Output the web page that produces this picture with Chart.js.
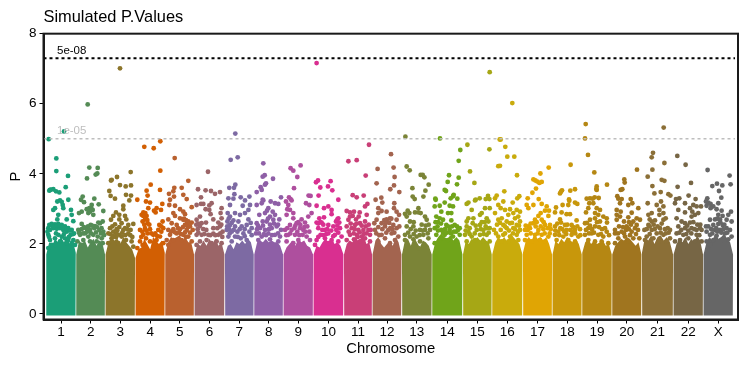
<!DOCTYPE html>
<html>
<head>
<meta charset="utf-8">
<script src="https://cdn.jsdelivr.net/npm/chart.js@4"></script>
<style>
  body { margin: 0; background: #fff; }
  canvas { display: block; }
</style>
</head>
<body>
<canvas id="manhattan" width="750" height="367"></canvas>
<script>
const chromosomes = ["1","2","3","4","5","6","7","8","9","10","11","12","13","14","15","16","17","18","19","20","21","22","X"];
const chromLengths = [30,29.3,30,29.7,29.3,30.4,29.3,29.3,30,30.4,28.6,29.4,30.3,30.7,29.3,30.7,29.6,29.7,30,29.7,31.6,30,30];
const chromColors = ["#1b9e77","#548b55","#8c752b","#d25f03","#b9612f","#9b6568","#7d6aa3","#8e5fa6","#ae4f9e","#d92f90","#c93f77","#a3644f","#7b8437","#70a41a","#a6a715","#c9ab0c","#e0a504","#c8970b","#b58713","#a0751f","#8b6f37","#776645","#666666"];

// top edge of the solid part of each chromosome, 11 readings left to right
const bandTops = [
  [1.7,2.05,1.95,2.15,2.05,2.2,2.05,2.2,2.0,2.1,1.75],
  [1.7,2.1,2.0,2.1,1.9,2.05,2.15,1.95,2.1,2.05,1.7],
  [1.7,2.05,2.2,2.1,2.15,2.0,2.2,2.05,1.95,1.85,1.6],
  [1.6,1.85,1.9,2.15,2.0,1.85,2.2,2.1,2.0,2.1,1.75],
  [1.7,2.05,2.2,2.15,2.2,2.25,2.1,2.2,2.05,2.05,1.7],
  [1.7,2.0,1.95,2.1,1.95,2.15,2.0,2.15,1.95,2.05,1.7],
  [1.7,1.95,2.0,1.85,2.05,2.0,2.1,2.0,2.15,2.05,1.7],
  [1.7,2.05,2.1,2.05,2.15,2.05,2.1,2.05,2.05,1.95,1.7],
  [1.7,1.9,2.0,2.1,1.95,2.15,2.05,2.1,1.95,1.9,1.7],
  [1.7,1.95,1.9,2.05,2.15,2.05,2.2,2.0,2.05,1.95,1.7],
  [1.7,2.0,2.1,2.05,2.2,2.1,2.15,2.25,2.0,2.05,1.7],
  [1.7,2.1,2.2,2.0,1.9,2.0,2.05,1.95,2.2,2.05,1.7],
  [1.7,2.1,2.15,1.95,2.2,2.05,1.9,2.1,2.05,1.95,1.7],
  [1.7,2.05,2.2,2.3,2.2,2.15,2.25,2.1,2.2,2.1,1.7],
  [1.7,2.1,2.0,2.15,2.1,2.2,2.1,2.2,2.1,2.05,1.7],
  [1.7,2.05,2.2,2.1,2.2,2.05,2.3,2.2,2.1,2.0,1.7],
  [1.75,2.1,2.2,2.1,2.3,2.15,2.2,2.1,2.2,2.0,1.7],
  [1.7,2.1,2.0,2.15,2.05,2.2,2.1,2.05,2.15,2.0,1.7],
  [1.75,2.05,2.15,2.0,2.1,2.0,2.05,2.1,1.95,2.0,1.7],
  [1.7,1.95,2.05,2.15,2.1,2.2,2.15,2.05,1.95,2.05,1.7],
  [1.75,2.2,2.1,2.25,2.0,2.2,2.25,2.1,2.2,2.05,1.7],
  [1.7,2.0,2.15,2.05,2.2,2.0,2.15,2.05,2.25,2.1,1.7],
  [1.7,2.05,2.2,2.1,2.3,2.15,2.2,2.3,2.15,2.05,1.7]
];

// [position inside chromosome, -log10(p)]
const chr1 = [[2.7,4.99],[18,5.21],[10.3,4.44],[10.3,4.08],[22,3.94],[19.7,3.62],[4,3.54],[7.3,3.56],[5,3.55],[3.3,3.52],[10,3.5],[13.3,3.47],[22.3,3.26],[14,3.24],[11.3,3.21],[15.7,3.2],[16.7,3.11],[9,3.02],[7.3,2.97],[17.3,3.02],[25,2.97],[12.3,2.83],[25.7,2.83],[20.7,2.7],[27.3,2.65],[11.3,2.7],[3.3,2.54],[5.7,2.57],[9,2.56],[12.3,2.57],[15.7,2.54],[19,2.5],[22.3,2.45],[25.7,2.4],[2.3,2.45],[4,2.4],[7.3,2.45],[10.7,2.43],[14,2.45],[17.3,2.4],[20.7,2.35],[24.7,2.26],[28,2.3],[2.3,2.26],[4,2.11],[5.7,1.97],[9,2.16],[12.3,2.26],[15.7,2.21],[19,2.16],[22.3,2.11],[27.3,2.11],[25.7,2.02],[29,1.97],[20.7,2.02],[14,2.07],[9,1.97],[2.3,1.88],[6,2.52],[8,2.5],[11,2.52],[14,2.52],[17,2.48],[21,2.42],[24,2.38],[27,2.28],[1.5,2.35],[3,2.2],[10,2.3],[18,2.28],[23,2.2]];
const chr2 = [[11.7,5.98],[13.3,4.18],[21.7,4.17],[21.3,4.01],[19.7,3.98],[11,3.87],[6.7,3.35],[5,3.26],[8,3.19],[18.3,3.29],[22.7,3.13],[15.7,3.11],[13.3,3.02],[10.7,2.99],[16.7,2.97],[5.7,2.92],[3,2.88],[27.3,2.94],[12.3,2.88],[17.3,2.83],[26.7,2.64],[22.3,2.61],[5.7,2.57],[14.7,2.54],[19,2.51],[24,2.59],[2.3,2.4],[5.7,2.42],[10,2.45],[14,2.4],[18.3,2.45],[23.3,2.4],[27.3,2.35],[4,2.26],[9,2.3],[12.3,2.21],[17.3,2.26],[21.7,2.21],[25.7,2.16],[1.3,2.07],[7.3,2.11],[14,2.07],[20.7,2.07],[26.7,2.02],[5.7,1.97],[17.3,1.97],[8,2.48],[12,2.5],[16,2.52],[21,2.48],[25.5,2.45],[3,2.32],[7,2.3],[11,2.35],[15,2.3],[20,2.33],[25,2.3],[28,2.25],[14,2.92],[15.5,3.0]];
const chr3 = [[14.7,7.01],[25.4,4.05],[11.7,3.91],[6.4,3.83],[14.7,3.68],[20.4,3.64],[25.7,3.67],[5.7,3.81],[4,3.51],[5.3,3.37],[9.7,3.29],[20.7,3.4],[25.7,3.38],[24,3.24],[18,3.09],[18,2.99],[10.7,2.9],[14,2.83],[8,2.8],[19.7,2.8],[21,2.7],[14,2.7],[5.7,2.69],[9.7,2.56],[16.3,2.59],[23,2.54],[28,2.57],[4.7,2.45],[11.3,2.42],[19.7,2.45],[25.3,2.4],[3,2.3],[8,2.35],[14,2.26],[23,2.3],[6.3,2.16],[10.7,2.19],[16.3,2.21],[20.7,2.11],[26.3,2.07],[3,2.02],[13,2.02],[28,1.92],[7,2.5],[14,2.48],[18,2.4],[22,2.42],[5,2.28],[11,2.3],[17,2.32],[20,2.25],[25,2.25],[8,2.22],[12,2.38],[27,2.2]];
const chr4 = [[9,4.77],[18.4,4.73],[25,4.93],[25,4.09],[15.4,3.69],[2,3.26],[11.3,3.52],[12.3,3.38],[24.7,3.54],[10.7,3.21],[14.7,3.18],[27,3.14],[21.3,3.02],[25.7,2.97],[8,2.9],[13,3.02],[18.7,2.95],[20.3,2.9],[6.3,2.83],[11.3,2.8],[9.7,2.7],[7.3,2.64],[27.3,2.64],[24,2.54],[12.3,2.59],[4.7,2.4],[9.7,2.45],[14.7,2.42],[23,2.4],[28,2.45],[8,2.26],[12.3,2.3],[18,2.26],[24.7,2.21],[4.7,2.07],[10.7,2.16],[14.7,2.07],[21.3,2.11],[28,2.02],[2,1.88],[7.3,1.97],[8,2.8],[10,2.88],[12,2.68],[9,2.55],[14,2.55],[26,2.5],[7,2.35],[11,2.38],[16,2.3],[20,2.3],[26,2.35],[22,2.22],[6,2.2]];
const chr5 = [[9.7,4.45],[23.3,3.8],[9.3,3.6],[16.7,3.6],[4,3.43],[8.3,3.5],[9,3.35],[18.3,3.4],[21.7,3.28],[5,3.26],[4.3,3.11],[10,3.09],[26.7,3.05],[15,2.99],[18.3,2.92],[8.3,2.88],[10,2.8],[20,2.85],[3.3,2.7],[15,2.73],[18.3,2.69],[23.3,2.64],[26.7,2.61],[6.7,2.59],[11.7,2.54],[20,2.54],[25,2.5],[3.3,2.4],[8.3,2.42],[15,2.42],[21.7,2.4],[27.7,2.4],[5,2.26],[11.7,2.3],[18.3,2.26],[23.3,2.21],[1.7,2.11],[8.3,2.11],[16.7,2.11],[26.7,2.07],[3.3,1.97],[19,2.72],[21,2.68],[22,2.6],[24,2.55],[13,2.45],[18,2.48],[23,2.48],[6,2.35],[10,2.33],[14,2.33],[20,2.33],[25,2.32],[16,2.28],[21,2.2]];
const chr6 = [[13.7,4.06],[3.7,3.56],[11.3,3.53],[16.7,3.51],[25.7,3.48],[20.7,3.43],[6.7,3.33],[6.7,3.14],[2.3,3.11],[9,3.14],[17.3,3.16],[15,3.1],[11.3,2.99],[15,2.97],[27.3,3.02],[16.3,2.85],[26.3,2.88],[5.7,2.78],[2.3,2.69],[7.3,2.59],[11.7,2.61],[19,2.7],[27.3,2.73],[24,2.61],[3.3,2.42],[9,2.42],[19,2.45],[25.7,2.5],[2.3,2.26],[7.3,2.26],[14,2.26],[19,2.29],[24,2.26],[28.3,2.35],[5.7,2.07],[12.3,2.11],[22.3,2.07],[27.3,2.02],[2.3,1.97],[17.3,2.02],[4,2.58],[5.5,2.5],[2,2.55],[12,2.4],[16,2.25],[21,2.25],[26,2.3],[23,2.45],[27,2.55],[28,2.2],[10,2.28],[4,2.32]];
const chr7 = [[10.6,5.15],[6,4.4],[13,4.47],[10.6,3.69],[4.6,3.6],[9.3,3.6],[9.7,3.42],[3.7,3.3],[8.7,3.29],[16,3.33],[20.3,3.24],[24.7,3.35],[5.3,3.11],[18,3.09],[23.7,2.97],[10.3,2.88],[15.3,2.83],[5.3,2.78],[20.3,2.88],[8.7,2.67],[2.7,2.64],[13.7,2.64],[23.7,2.7],[5.3,2.54],[10.3,2.5],[17,2.5],[22,2.54],[2,2.4],[7,2.35],[12.7,2.35],[18.7,2.3],[24.7,2.35],[3.7,2.21],[10.3,2.21],[16,2.16],[7,2.07],[22,2.11],[25.3,3.11],[3,2.88],[4,2.72],[7,2.6],[2.5,2.5],[4.5,2.42],[9,2.4],[15,2.42],[20,2.42],[26,2.6],[27,2.45],[13,2.2],[20,2.22],[27,2.25],[5,2.3]];
const chr8 = [[9.3,4.3],[8.7,3.92],[10.7,3.96],[19,3.86],[11,3.69],[12,3.73],[6.7,3.62],[7.7,3.54],[2.7,3.48],[8.7,3.26],[27,3.33],[9.3,3.24],[16.7,3.21],[21,3.16],[24.3,3.14],[2.7,3.11],[7.7,3.16],[14.3,3.02],[18.7,2.92],[11,2.88],[5.3,2.83],[16,2.78],[21,2.83],[8.7,2.64],[2.7,2.59],[12.7,2.64],[19.3,2.69],[25.3,2.7],[6,2.45],[11,2.4],[17.7,2.45],[22.7,2.5],[2,2.3],[7.7,2.21],[14.3,2.3],[21,2.26],[26,2.21],[4.3,2.11],[16,2.13],[24.3,2.07],[13,2.95],[14,2.72],[16,2.55],[20,2.58],[24,2.55],[4,2.52],[9,2.52],[5,2.3],[12,2.25],[18,2.25],[24,2.3],[27,2.4],[3,2.42],[10,2.28],[15,2.42]];
const chr9 = [[7.3,4.16],[10,4.09],[17.3,4.24],[14,3.91],[10.7,3.59],[5.7,3.33],[7.3,3.28],[25.3,3.38],[27.3,3.37],[2.7,3.21],[5,3.11],[8.3,3.24],[22.7,3.16],[26,3.11],[4,2.99],[10,2.88],[3.3,2.83],[6.7,2.97],[28.3,2.88],[25,2.78],[10,2.73],[18.3,2.7],[6.7,2.54],[13.3,2.59],[21.7,2.61],[1.7,2.4],[8.3,2.4],[16.7,2.45],[26,2.35],[5,2.26],[11.7,2.26],[19.3,2.26],[23.3,2.21],[3.3,2.07],[15,2.11],[26.7,2.11],[10,2.02],[7,2.3],[11,2.45],[14,2.35],[17,2.55],[20,2.4],[15,2.62],[12,2.52],[4,2.45],[22,2.35],[3,2.25],[16,2.25],[21,2.48],[24,2.5]];
const chr10 = [[3.3,7.16],[2.7,3.76],[4.7,3.81],[17.3,3.79],[7,3.61],[14.7,3.64],[19,3.53],[5.3,3.38],[25,3.26],[3.3,3.09],[15,3.07],[10.7,3.02],[18.3,2.97],[18.3,2.85],[6,2.73],[10.7,2.76],[25,2.73],[3.3,2.61],[8.3,2.61],[15,2.54],[22.7,2.64],[26,2.61],[5,2.45],[11.7,2.4],[20,2.5],[26.7,2.45],[7.3,2.26],[15,2.3],[21.7,2.26],[28.3,2.21],[3.3,2.11],[11.7,2.16],[18.3,2.11],[25,2.07],[1.7,1.97],[15,2.02],[7,2.62],[5,2.58],[10,2.55],[24,2.52],[23,2.4],[9,2.4],[14,2.42],[18,2.38],[25,2.32],[5,2.2],[10,2.25],[20,2.22],[13,2.28],[24,2.7]];
const chr11 = [[4.7,4.36],[13,4.39],[25.3,4.83],[22,3.95],[9,3.39],[13,3.33],[20,3.38],[21.3,3.07],[23.7,3.14],[6.3,2.9],[3,2.94],[10.3,2.92],[9,2.8],[12.3,2.7],[6.3,2.78],[23,2.83],[4.7,2.69],[16.3,2.59],[11.3,2.54],[21.3,2.64],[3,2.5],[8,2.45],[14.7,2.4],[19.7,2.4],[24.7,2.4],[6.3,2.26],[13,2.26],[18,2.21],[26.3,2.26],[3,2.11],[10.3,2.13],[21.3,2.16],[16.3,2.07],[26.3,2.07],[15,2.78],[16,2.9],[13,2.58],[18,2.52],[22,2.5],[25,2.55],[7,2.58],[11,2.42],[5,2.35],[10,2.3],[16,2.33],[23,2.3],[20,2.28],[14,2.2],[27,2.4]];
const chr12 = [[18.7,4.56],[5.3,4.14],[21.3,4.18],[22.3,3.91],[4.3,3.73],[21.7,3.67],[18,3.56],[27,3.48],[9,3.32],[3.3,3.26],[10,3.18],[22,3.16],[6,3.02],[9.3,2.94],[14.3,2.92],[24.3,2.92],[6,2.88],[21.7,3.02],[26.7,2.83],[14.3,2.7],[17.7,2.73],[4.3,2.69],[2,2.59],[9.3,2.59],[24.3,2.69],[12.7,2.5],[21,2.54],[2.7,2.4],[16,2.4],[24.3,2.45],[9.3,2.26],[19.3,2.3],[26,2.21],[12.7,2.16],[6,2.07],[22.7,2.11],[17.7,2.02],[15,2.62],[17,2.6],[19,2.72],[12,2.68],[13,2.58],[20,2.42],[6,2.48],[10,2.42],[14,2.32],[22,2.32],[18,2.45],[4,2.3],[7,2.25],[27,2.5]];
const chr13 = [[3.7,5.06],[5,4.21],[8,4.1],[19,3.97],[21,3.97],[22.7,3.9],[27,3.69],[10.7,3.59],[23.7,3.52],[21.7,3.35],[11,3.35],[13,3.28],[3.3,2.86],[7.7,2.88],[13.3,2.9],[16.7,3.02],[16.7,2.9],[23.3,2.78],[19,2.88],[8.3,2.64],[25,2.69],[5,2.5],[11.7,2.5],[18.3,2.4],[23.3,2.4],[28.3,2.4],[3.3,2.26],[8.3,2.21],[15,2.21],[21.7,2.26],[3.3,2.11],[11.7,2.13],[18.3,2.07],[26.7,2.16],[16.7,1.88],[6,2.95],[5,2.78],[12,2.62],[9,2.42],[6.5,2.32],[14,2.38],[20,2.55],[24,2.52],[21,2.38],[26,2.3],[12,2.28],[18,2.25],[27,2.55]];
const chr14 = [[8,5.01],[28.3,4.68],[26.7,4.37],[17,3.96],[26.7,3.89],[15.7,3.77],[25,3.7],[14,3.51],[3.3,3.29],[21,3.36],[18.7,3.3],[25.3,3.29],[12.7,3.54],[21.7,3.4],[3.7,3.26],[12.7,3.18],[2.7,3.07],[7.7,3.09],[17.7,3.09],[21,3.07],[9.3,2.92],[16,2.88],[19.3,2.88],[4.3,2.78],[7.7,2.73],[11,2.69],[19.3,2.67],[14.3,2.54],[22.7,2.54],[27.7,2.45],[2.7,2.45],[9.3,2.4],[17.7,2.4],[24.3,2.35],[4.3,2.26],[12.7,2.26],[21,2.21],[27.7,2.26],[7.7,2.11],[16,2.11],[24.3,2.07],[2.7,2.02],[3.5,2.62],[6,2.62],[9,2.58],[13,2.42],[16,2.5],[20,2.5],[22,2.35],[25,2.5],[6,2.38],[11,2.32],[15,2.32],[19,2.3],[26,2.4],[5.5,2.5]];
const chr15 = [[27,6.9],[4.7,4.83],[26.7,4.7],[7.3,4.07],[11.7,3.74],[25.3,3.37],[17,3.3],[13,3.26],[23,3.28],[26.7,3.28],[5.7,3.18],[4,3.14],[12.3,3.24],[22.3,3.02],[27,3.02],[9,2.97],[5.7,2.73],[4,2.64],[10.7,2.73],[19,2.88],[17.3,2.83],[24,2.73],[4,2.5],[10,2.59],[17.3,2.54],[25.7,2.64],[20.7,2.4],[14,2.4],[5.7,2.35],[27,2.45],[2.3,2.26],[9,2.21],[17.3,2.26],[24,2.26],[4,2.07],[12.3,2.11],[20.7,2.07],[27,2.07],[22,2.62],[23,2.5],[19,2.62],[13,2.52],[7,2.45],[18,2.42],[24,2.45],[12,2.3],[21,2.28],[26,2.32],[7,2.28],[3,2.38]];
const chr16 = [[20.3,6.02],[7.7,4.98],[8.7,4.98],[13.3,4.77],[15.3,4.49],[22.3,4.49],[6.3,4.22],[8,4.23],[25,3.96],[4.7,3.38],[12.3,3.5],[27.3,3.36],[25.3,3.3],[11.3,3.21],[20.7,3.18],[8.7,3.02],[13,2.97],[18,2.99],[24.7,2.97],[28,2.92],[21.3,2.88],[16.3,2.83],[26.3,2.78],[9.7,2.73],[14.7,2.64],[23,2.73],[28,2.64],[11.3,2.54],[18,2.59],[24.7,2.54],[8.7,2.4],[14.7,2.45],[21.3,2.45],[28,2.4],[11.3,2.26],[18,2.21],[24.7,2.26],[9.7,2.07],[16.3,2.07],[26.3,2.11],[3,3.3],[6.3,3.11],[3,2.88],[6.3,2.69],[2,2.4],[6.3,2.21],[5,2.55],[8,2.6],[13,2.5],[17,2.38],[20,2.6],[23,2.42],[26,2.35],[4,2.3],[13,2.3],[21,2.3],[27,2.52]];
const chr17 = [[26,4.18],[17.7,4.01],[10.7,3.84],[12.7,3.81],[14.7,3.78],[16.7,3.74],[19,3.77],[13.3,3.58],[9.7,3.46],[5,3.3],[16,3.28],[4,3.11],[10.7,3.11],[19,3.14],[5.7,3.02],[24,3.07],[22.3,2.95],[26.3,2.95],[18,2.88],[15.7,2.8],[25.7,2.8],[12.3,2.69],[19,2.69],[5.7,2.5],[10.7,2.59],[22.3,2.54],[27.3,2.54],[2.3,2.4],[7.3,2.45],[15.7,2.4],[20.7,2.42],[4,2.26],[12.3,2.26],[19,2.26],[25.7,2.21],[9,2.07],[17.3,2.11],[22.3,2.07],[2.3,2.11],[3,2.52],[5,2.4],[8,2.58],[13,2.5],[18,2.5],[21,2.62],[25,2.45],[28,2.42],[8,2.3],[15,2.3],[22,2.3],[27,2.3],[14,2.62]];
const chr18 = [[18.3,4.26],[7.7,3.44],[9.7,3.53],[8.7,3.49],[18,3.52],[22.7,3.56],[16.7,3.27],[17,3.23],[22.7,3.18],[25,3.14],[3.7,3.04],[10.3,3.11],[16,3.11],[2.7,2.9],[9.3,2.9],[14.3,2.85],[17.7,2.85],[7.7,2.7],[8.7,2.61],[24.3,2.67],[2.7,2.5],[12.7,2.54],[19.3,2.54],[6,2.35],[14.3,2.4],[22.7,2.4],[27.7,2.42],[2.7,2.26],[11,2.21],[19.3,2.26],[26,2.21],[4.3,2.11],[16,2.11],[22.7,2.07],[5,2.58],[8,2.45],[10,2.42],[15,2.55],[18,2.4],[21,2.48],[25,2.5],[7,2.25],[14,2.28],[23,2.3],[28,2.25],[3,2.38],[12,2.35],[20,2.35]];
const chr19 = [[3.7,5.42],[3,5.01],[6,4.54],[12.3,4.04],[25,3.69],[14.7,3.64],[14.7,3.54],[14.3,3.57],[4.7,3.29],[8,3.3],[12.7,3.33],[16.7,3.31],[10.7,3.29],[7.3,3.16],[11.3,3.16],[6.3,3.02],[4,2.9],[14.7,3.02],[18,2.97],[13,2.88],[16.3,2.83],[13,2.73],[8,2.69],[21.3,2.78],[24.7,2.73],[3,2.59],[18,2.64],[25,2.61],[6.3,2.45],[13,2.5],[24.7,2.35],[3,2.26],[9.7,2.3],[16.3,2.26],[21.3,2.21],[6.3,2.11],[13,2.07],[19.7,2.07],[26.3,2.02],[5,2.6],[8,2.52],[10,2.42],[15,2.62],[17,2.48],[20,2.42],[4,2.4],[12,2.32],[19,2.28],[23,2.45],[7,2.3],[27,2.25]];
const chr20 = [[25,4.12],[12.3,3.84],[12.7,3.75],[8.7,3.54],[10.3,3.56],[5.3,3.36],[6.3,3.29],[9.7,3.28],[18.7,3.28],[8,3.16],[16.3,3.11],[20.3,3.16],[4.7,2.97],[8.7,2.92],[4.7,2.83],[26.3,3.02],[19.7,2.89],[8,2.78],[16.3,2.76],[24.7,2.73],[4.7,2.69],[28,2.69],[12,2.64],[21.3,2.64],[3,2.4],[14.7,2.5],[24.7,2.54],[3,2.3],[9.7,2.35],[19.7,2.35],[27.3,2.16],[6.3,2.16],[13,2.21],[21.3,2.16],[3,2.02],[16.3,2.07],[17,2.62],[19,2.55],[11,2.48],[14,2.4],[17,2.42],[23,2.45],[7,2.5],[12,2.3],[18,2.25],[24,2.28],[26,2.4],[6,2.3]];
const chr21 = [[22,5.32],[11.3,4.6],[10,4.47],[22.7,4.31],[10.7,4.12],[6,3.92],[20,3.83],[22.7,3.8],[10.7,3.65],[12.7,3.44],[19,3.48],[26.7,3.42],[28.7,3.38],[6,3.16],[19.3,3.21],[15,3.11],[21.7,3.07],[17.7,2.97],[10,2.88],[6.7,2.83],[21.7,2.88],[17.7,2.83],[24,2.73],[10,2.64],[13.3,2.67],[21.7,2.69],[6.7,2.54],[18.3,2.45],[23.3,2.42],[2.7,2.4],[10,2.4],[15,2.3],[28.3,2.4],[5,2.21],[11.7,2.16],[21.7,2.26],[28.3,2.16],[3.3,2.11],[16.7,2.07],[25,2.07],[8,2.7],[12,2.55],[16,2.5],[20,2.58],[26,2.45],[5,2.42],[8,2.5],[13,2.42],[19,2.32],[24,2.3],[8,2.28],[27,2.32]];
const chr22 = [[4,4.51],[12.3,4.26],[17.7,3.74],[4.3,3.63],[15.3,3.38],[6,3.3],[2.7,3.28],[22.3,3.28],[1.7,3.16],[11.7,3.16],[5,2.97],[20,3.11],[23.3,3.07],[27.7,3.07],[16.7,3.02],[11.7,2.9],[19,2.92],[25,2.88],[18.3,2.78],[21.7,2.83],[3.3,2.73],[8.3,2.64],[11.7,2.59],[16.7,2.61],[26.7,2.45],[23.3,2.4],[5,2.5],[11.7,2.45],[18.3,2.45],[28.3,2.4],[3.3,2.3],[10,2.26],[23.3,2.26],[6.7,2.11],[15,2.16],[1.7,2.07],[21.7,2.07],[28.3,2.07],[14,2.52],[20,2.62],[24,2.55],[8,2.4],[15,2.38],[21,2.42],[6,2.32],[13,2.28],[18,2.3],[26,2.25],[27,2.55]];
const chrX = [[4.3,4.11],[26.3,3.95],[27.3,3.7],[13.7,3.72],[9,3.65],[19,3.67],[15.7,3.51],[18,3.32],[4,3.3],[2.7,3.21],[5,3.18],[7.3,3.14],[3.3,3.09],[10,3.07],[7.3,3.02],[15,3.16],[13.3,2.99],[18.3,2.95],[27.7,2.92],[15,2.83],[19.3,2.8],[25,2.83],[6.7,2.69],[11.7,2.7],[16.7,2.7],[23.3,2.69],[28.3,2.64],[2.7,2.5],[10,2.54],[15,2.57],[19.3,2.54],[23.3,2.45],[3.3,2.35],[11.7,2.4],[16.7,2.4],[26.7,2.4],[6.7,2.26],[13.3,2.23],[21.7,2.3],[28.3,2.21],[3.3,2.07],[10,2.11],[18.3,2.11],[25,2.13],[6.7,1.97],[14,2.72],[17,2.62],[21,2.55],[13,2.45],[8,2.42],[5,2.5],[18,2.32],[24,2.32],[9,2.3],[14,2.35],[20,2.42]];
const chrPoints = [chr1,chr2,chr3,chr4,chr5,chr6,chr7,chr8,chr9,chr10,chr11,chr12,chr13,chr14,chr15,chr16,chr17,chr18,chr19,chr20,chr21,chr22,chrX];

const yTicks = [0, 2, 4, 6, 8];
const thresholds = [
  { value: 7.301, label: "5e-08", color: "#000000", width: 2 },
  { value: 5, label: "1e-05", color: "#bebebe", width: 1.5 }
];

let starts = [];
let total = 0;
chromLengths.forEach(len => { starts.push(total); total += len; });
const mids = chromLengths.map((len, i) => starts[i] + len / 2);

const xMin = -2.5, xMax = 692;
const datasets = [];

chromosomes.forEach((name, i) => {
  const s = starts[i], len = chromLengths[i];
  // solid block under the dots, its top edge follows bandTops
  const topEdge = bandTops[i].map((v, k) => ({
    x: s + 0.25 + (len - 0.5) * k / (bandTops[i].length - 1),
    y: v
  }));
  datasets.push({
    label: "band " + name,
    data: [{ x: s + 0.5, y: -0.04 }, ...topEdge, { x: s + len - 0.5, y: -0.04 }],
    showLine: true, fill: "shape", tension: 0, borderWidth: 0, pointRadius: 0,
    backgroundColor: chromColors[i], order: 3
  });
  datasets.push({
    label: "chr " + name,
    data: chrPoints[i].map(p => ({ x: s + p[0], y: p[1] })),
    pointRadius: 2.4, borderWidth: 0, backgroundColor: chromColors[i], order: 2
  });
});

thresholds.forEach(t => {
  datasets.push({
    label: t.label,
    data: [{ x: xMin, y: t.value }, { x: xMax - 3, y: t.value }],
    showLine: true, borderColor: t.color, borderWidth: t.width, borderDash: [3, 3],
    pointRadius: 0, order: 1
  });
});

// threshold captions and the box around the panel
const extras = {
  id: "extras",
  afterDatasetsDraw(chart) {
    const { ctx, chartArea, scales } = chart;
    ctx.save();
    ctx.font = "11.5px 'Liberation Sans'";
    ctx.textBaseline = "bottom";
    thresholds.forEach(t => {
      ctx.fillStyle = t.color;
      ctx.fillText(t.label, scales.x.getPixelForValue(11), scales.y.getPixelForValue(t.value) - 2);
    });
    ctx.strokeStyle = "#1a1a1a";
    ctx.lineWidth = 2;
    ctx.strokeRect(chartArea.left, chartArea.top, chartArea.width, chartArea.height);
    ctx.restore();
  }
};

new Chart(document.getElementById("manhattan"), {
  type: "scatter",
  data: { datasets },
  plugins: [extras],
  options: {
    responsive: false,
    animation: false,
    layout: { padding: { left: 7, right: 12, bottom: 9.5 } },
    plugins: {
      legend: { display: false },
      tooltip: { enabled: false },
      title: {
        display: true,
        text: "Simulated P.Values",
        align: "start",
        fullSize: false,
        color: "#000",
        font: { family: "'Liberation Sans'", size: 16.4, weight: "normal" },
        padding: { top: 8, bottom: 6 }
      }
    },
    scales: {
      x: {
        type: "linear",
        min: xMin,
        max: xMax,
        grid: { drawOnChartArea: false, color: "#000", tickLength: 4 },
        border: { color: "#1a1a1a", width: 2 },
        afterBuildTicks: scale => { scale.ticks = mids.map(v => ({ value: v })); },
        afterTickToLabelConversion: scale => { scale.ticks.forEach((t, i) => { t.label = chromosomes[i]; }); },
        afterFit: scale => { scale.height = 38; },
        ticks: {
          autoSkip: false, maxRotation: 0, color: "#000", padding: 1,
          font: { family: "'Liberation Sans'", size: 13.5 }
        },
        title: {
          display: true, text: "Chromosome", color: "#000", padding: { top: 0, bottom: 0 },
          font: { family: "'Liberation Sans'", size: 14.8 }
        }
      },
      y: {
        min: -0.157,
        max: 8,
        grid: { drawOnChartArea: false, color: "#000", tickLength: 4 },
        border: { color: "#1a1a1a", width: 2 },
        afterBuildTicks: scale => { scale.ticks = yTicks.map(v => ({ value: v })); },
        afterFit: scale => { scale.width = 36.5; },
        ticks: {
          color: "#000", padding: 3,
          font: { family: "'Liberation Sans'", size: 13.5 }
        },
        title: {
          display: true, text: "P", color: "#000", padding: { top: 0, bottom: 0 },
          font: { family: "'Liberation Sans'", size: 14.8 }
        }
      }
    }
  }
});
</script>
</body>
</html>
